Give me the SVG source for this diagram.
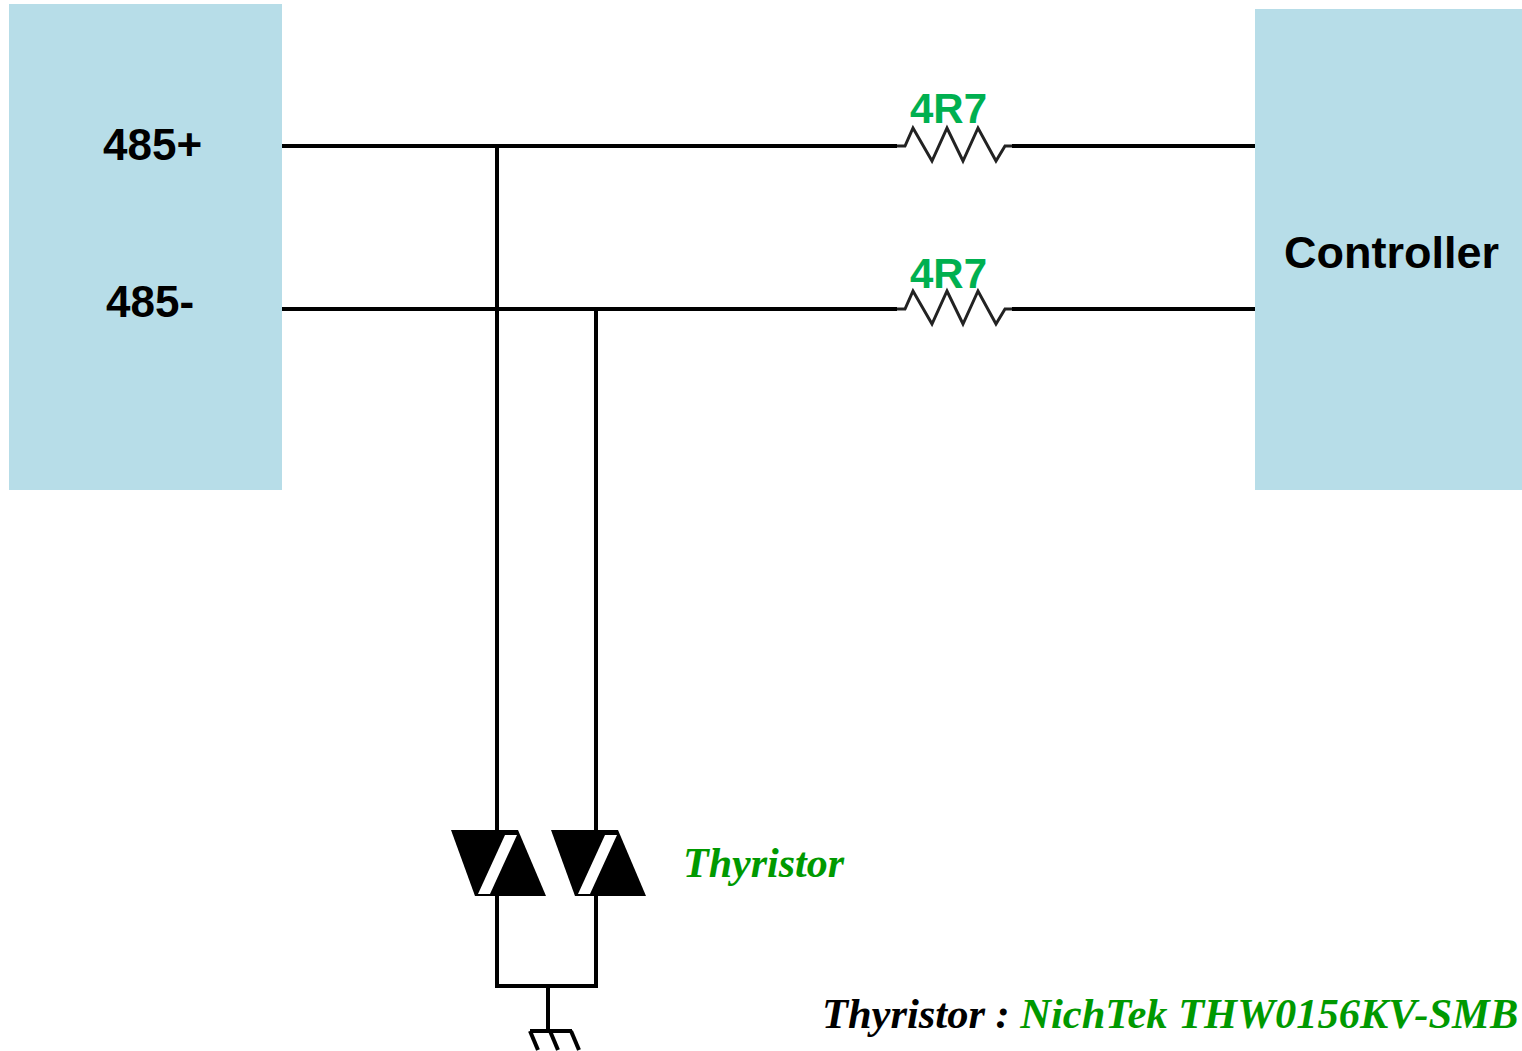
<svg xmlns="http://www.w3.org/2000/svg" width="1522" height="1051" viewBox="0 0 1522 1051">
<style>
.box{fill:#b7dde8}
.lbl{font-family:"Liberation Sans",Arial,sans-serif;font-weight:bold;font-size:44px;fill:#000}
.ctl{font-size:45px}
.res{font-family:"Liberation Sans",Arial,sans-serif;font-weight:bold;font-size:42px;fill:#00b050}
.w{stroke:#000;stroke-width:4;fill:none}
.zig{stroke:#222;stroke-width:3;fill:none;stroke-linejoin:miter}
.thy{font-family:"Liberation Serif","Times New Roman",serif;font-weight:bold;font-style:italic;font-size:42px;fill:#009900}
.note{font-family:"Liberation Serif","Times New Roman",serif;font-weight:bold;font-style:italic;font-size:42.5px}
</style>
<defs>
<g id="thyristor">
<polygon points="-46,0 21,0 49,66 -22,66" fill="#000"/>
<polygon points="-19,64 -7,64 20,5 8,5" fill="#fff"/>
</g>
</defs>
<g id="node-485">
<rect class="box" x="9" y="4" width="273" height="486"/>
<text class="lbl" x="103" y="160">485+</text>
<text class="lbl" x="106" y="317">485-</text>
</g>
<g id="node-controller">
<rect class="box" x="1255" y="9" width="267" height="481"/>
<text class="lbl ctl" x="1284" y="268">Controller</text>
</g>
<g id="connectors">
<line class="w" x1="282" y1="146" x2="897" y2="146"/>
<line class="w" x1="1012" y1="146" x2="1255" y2="146"/>
<line class="w" x1="282" y1="309" x2="897" y2="309"/>
<line class="w" x1="1012" y1="309" x2="1255" y2="309"/>
<line class="w" x1="497" y1="146" x2="497" y2="831"/>
<line class="w" x1="596" y1="309" x2="596" y2="831"/>
<polyline class="w" points="497,895 497,986 596,986 596,895"/>
<line class="w" x1="548" y1="986" x2="548" y2="1031"/>
<line class="w" x1="530" y1="1031" x2="572" y2="1031"/>
<line class="w" x1="530" y1="1031" x2="538" y2="1050"/>
<line class="w" x1="550" y1="1031" x2="558" y2="1050"/>
<line class="w" x1="571" y1="1031" x2="579" y2="1050"/>
</g>
<g id="resistor-1">
<polyline class="zig" points="897,146 905,146 913,128 932,161 947,128 963,161 978,128 996,161 1005,146 1012,146"/>
<text class="res" x="910" y="123">4R7</text>
</g>
<g id="resistor-2">
<polyline class="zig" points="897,309 905,309 913,291 932,324 947,291 963,324 978,291 996,324 1005,309 1012,309"/>
<text class="res" x="910" y="288">4R7</text>
</g>
<g id="thyristor-1"><use href="#thyristor" x="497" y="830"/></g>
<g id="thyristor-2"><use href="#thyristor" x="597" y="830"/></g>
<g id="thyristor-label"><text class="thy" x="683" y="877">Thyristor</text></g>
<g id="note"><text class="note" x="822" y="1028"><tspan fill="#000">Thyristor : </tspan><tspan fill="#009900">NichTek THW0156KV-SMB</tspan></text></g>
</svg>
